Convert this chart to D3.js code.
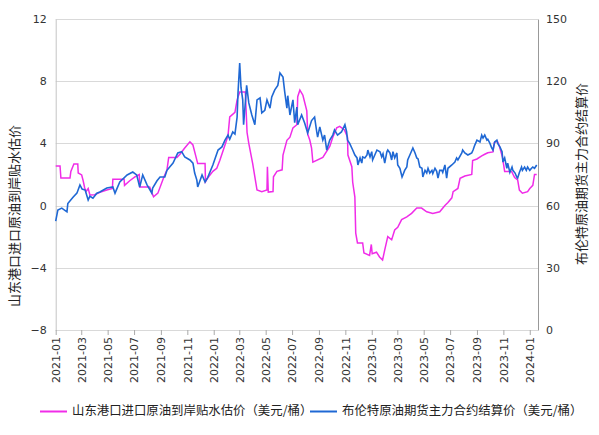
<!DOCTYPE html>
<html>
<head>
<meta charset="utf-8">
<script src="https://cdn.jsdelivr.net/npm/d3@7/dist/d3.min.js"></script>
<style>
  body { margin: 0; background: #fff; }
  text { font-family: "Noto Sans CJK SC", "DejaVu Sans", sans-serif; fill: #222; }
  .tick-num { font-family: "DejaVu Sans", sans-serif; font-size: 11px; fill: #333; }
  .grid { stroke: #d9d9d9; stroke-width: 1; }
</style>
</head>
<body>
<svg id="chart" width="599" height="435"></svg>
<script>
// pink series: 山东港口进口原油到岸贴水估价 (left axis)
var spreadDates = ['2021-01-01','2021-01-11','2021-01-13','2021-02-03','2021-02-05','2021-02-12','2021-02-21','2021-02-22','2021-03-02','2021-03-05','2021-03-09','2021-03-12','2021-03-17','2021-03-21','2021-04-01','2021-04-13','2021-04-29','2021-05-12','2021-05-13','2021-06-08','2021-06-09','2021-06-21','2021-07-03','2021-07-13','2021-07-14','2021-08-06','2021-08-15','2021-08-25','2021-09-07','2021-09-15','2021-09-19','2021-10-08','2021-10-15','2021-10-26','2021-11-07','2021-11-14','2021-11-20','2021-11-25','2021-12-12','2021-12-13','2021-12-18','2021-12-30','2022-01-08','2022-01-15','2022-01-27','2022-02-03','2022-02-07','2022-02-19','2022-02-24','2022-03-02','2022-03-15','2022-03-19','2022-03-23','2022-04-01','2022-04-11','2022-04-22','2022-05-04','2022-05-05','2022-05-07','2022-05-18','2022-05-19','2022-05-27','2022-06-08','2022-06-10','2022-06-19','2022-06-26','2022-07-03','2022-07-12','2022-07-14','2022-07-19','2022-07-26','2022-08-04','2022-08-06','2022-08-11','2022-08-15','2022-08-18','2022-09-10','2022-09-26','2022-10-03','2022-10-12','2022-10-19','2022-10-30','2022-11-06','2022-11-07','2022-11-16','2022-11-18','2022-11-23','2022-11-25','2022-11-29','2022-12-11','2022-12-14','2022-12-27','2022-12-31','2023-01-02','2023-01-12','2023-01-19','2023-01-26','2023-01-31','2023-02-07','2023-02-16','2023-02-23','2023-03-02','2023-03-11','2023-03-23','2023-04-03','2023-04-15','2023-04-26','2023-05-08','2023-05-22','2023-06-07','2023-06-19','2023-06-26','2023-07-05','2023-07-08','2023-07-19','2023-07-24','2023-08-04','2023-08-20','2023-08-22','2023-09-01','2023-09-12','2023-09-19','2023-09-26','2023-10-08','2023-10-11','2023-10-18','2023-10-23','2023-10-30','2023-11-04','2023-11-20','2023-11-27','2023-12-04','2023-12-08','2023-12-15','2023-12-27','2024-01-01','2024-01-08','2024-01-12','2024-01-17'];
var spreadValues = [2.55,2.55,1.77,1.77,2.2,2.67,2.67,2.1,1.97,1.65,1.13,0.9,1.1,0.68,0.7,0.85,1.0,1.1,1.7,1.7,1.3,1.6,1.85,2.0,1.2,1.2,0.57,0.8,1.77,2.3,3.1,3.1,3.3,3.7,4.1,3.9,3.25,2.7,2.7,1.54,1.77,2.2,2.4,2.9,3.9,4.5,5.7,6.0,6.8,7.3,7.3,4.7,4.0,2.7,1.0,0.9,1.0,2.5,0.87,0.9,1.85,2.2,2.3,3.25,4.2,4.4,5.0,5.2,7.0,7.43,7.1,6.1,4.6,4.2,3.7,2.8,3.1,3.8,4.4,5.0,5.1,4.86,4.4,3.25,2.5,1.5,0.55,-1.77,-2.4,-2.4,-3.05,-3.2,-2.5,-3.1,-3.0,-3.3,-3.5,-2.85,-2.0,-2.2,-1.57,-1.4,-0.9,-0.73,-0.5,-0.15,-0.16,-0.4,-0.5,-0.4,0.0,0.2,0.5,0.9,1.1,1.75,1.9,2.0,2.9,3.0,3.2,3.3,3.4,3.45,4.05,4.15,3.8,3.1,2.2,2.2,1.8,1.65,1.0,0.8,0.9,1.1,1.3,2.0,2.0];

// blue series: 布伦特原油期货主力合约结算价 (right axis)
var brentDates = ['2021-01-01','2021-01-06','2021-01-15','2021-01-27','2021-01-29','2021-02-10','2021-02-19','2021-02-26','2021-03-03','2021-03-10','2021-03-17','2021-03-21','2021-03-28','2021-04-06','2021-04-13','2021-04-29','2021-05-13','2021-05-18','2021-05-29','2021-06-15','2021-06-28','2021-07-07','2021-07-14','2021-07-21','2021-07-31','2021-08-11','2021-08-13','2021-08-23','2021-08-30','2021-09-10','2021-09-15','2021-09-29','2021-10-10','2021-10-19','2021-10-26','2021-11-07','2021-11-14','2021-11-18','2021-11-23','2021-11-25','2021-12-05','2021-12-12','2021-12-18','2021-12-30','2022-01-11','2022-01-20','2022-01-27','2022-02-03','2022-02-07','2022-02-14','2022-02-19','2022-02-24','2022-02-26','2022-03-02','2022-03-05','2022-03-09','2022-03-11','2022-03-16','2022-03-18','2022-03-23','2022-03-30','2022-04-06','2022-04-11','2022-04-18','2022-04-22','2022-04-29','2022-05-04','2022-05-11','2022-05-15','2022-05-22','2022-05-29','2022-06-03','2022-06-10','2022-06-14','2022-06-19','2022-06-21','2022-06-26','2022-07-03','2022-07-07','2022-07-12','2022-07-14','2022-07-23','2022-07-30','2022-08-06','2022-08-15','2022-08-22','2022-08-27','2022-08-29','2022-09-03','2022-09-10','2022-09-14','2022-09-19','2022-09-26','2022-10-03','2022-10-07','2022-10-14','2022-10-23','2022-10-31','2022-11-04','2022-11-06',
  '2022-11-11','2022-11-18','2022-11-23','2022-11-28','2022-11-30','2022-12-05','2022-12-09','2022-12-11','2022-12-16','2022-12-21','2022-12-23','2022-12-28','2023-01-01','2023-01-03','2023-01-08','2023-01-13','2023-01-20','2023-01-24','2023-01-27','2023-01-31','2023-02-05','2023-02-07','2023-02-12','2023-02-16','2023-02-19','2023-02-23','2023-02-28','2023-03-02','2023-03-07','2023-03-12','2023-03-14','2023-03-18','2023-03-23','2023-03-25','2023-03-30','2023-04-04','2023-04-06','2023-04-11','2023-04-15','2023-04-18','2023-04-22','2023-04-27','2023-04-29','2023-05-04','2023-05-08','2023-05-11','2023-05-15','2023-05-20','2023-05-22','2023-05-27','2023-05-31','2023-06-03','2023-06-07','2023-06-12','2023-06-14','2023-06-19','2023-06-23','2023-06-26','2023-07-05','2023-07-12','2023-07-16','2023-07-19','2023-07-28','2023-07-30','2023-08-04','2023-08-11','2023-08-20','2023-08-23','2023-08-27','2023-09-01','2023-09-08','2023-09-12','2023-09-15','2023-09-19','2023-09-24','2023-09-26','2023-10-01','2023-10-05','2023-10-08','2023-10-12','2023-10-17','2023-10-19','2023-10-24','2023-10-29','2023-10-31','2023-11-04','2023-11-09','2023-11-11','2023-11-16','2023-11-21','2023-11-23','2023-11-28','2023-12-02','2023-12-04','2023-12-08','2023-12-13','2023-12-15','2023-12-20','2023-12-24','2023-12-27','2024-01-01','2024-01-05','2024-01-08','2024-01-12','2024-01-17'];
var brentValues = [52.5,57.9,58.8,57,61,64,66,70,68,67.5,62.7,64.5,63.6,66,66.6,68.5,69,66,71.4,74.8,76.2,74.8,69,74.8,70,66,68.5,72,73.8,73.8,77,80.5,85.4,86,83.5,82,80.5,75.7,72.3,69,74.8,71.4,73.5,79.6,86.8,88.3,91.6,94,92,95.5,94.5,102.7,114,128.8,117,111,99,112.4,118,109.5,103.7,99,111,112,104.7,106,111,107,112.4,115.8,118,124,122,114.8,107,113,103.7,111,100,107.5,99,103.7,99.8,95,101,102.7,95.5,93,98,91.6,94,86.8,91.6,94,96.5,94,95.5,99,95.5,91.6,
  90,86.8,84.4,83,79.6,83,80.5,83.5,83,84.4,86.8,83.5,86,82,84.4,86.8,86,83.5,85,80.5,86,86.8,85.4,82,86,83,85.4,79.6,78,73.8,74.8,77,78.6,82,84.4,86.8,87.8,85.4,83,82.5,78.6,78,73.8,77,75.7,78,75.7,77,75.5,78,76.5,73.3,77,77,76,79.6,73.3,78,79.6,81,83,82,85.4,86.8,85.4,84.4,85.4,86.8,89.2,91.6,90.7,94,92.6,94,91.6,92,90,87.8,86.8,90.7,91.6,90,88.3,86,81,83,78,80.5,76,78.6,77,75.7,73.8,73.3,76,78.6,77,78.6,77,78.6,77,78,78.6,78,79.6];

var leftTicks = [-8, -4, 0, 4, 8, 12];
var rightTicks = [0, 30, 60, 90, 120, 150];

var parse = d3.timeParse('%Y-%m-%d');
var svg = d3.select('#chart');
var plotLeft = 55.7, plotRight = 538, plotTop = 19, plotBottom = 330;

var x = d3.scaleTime()
  .domain([parse('2021-01-01'), parse('2024-01-20')])
  .range([plotLeft, plotRight]);
var yL = d3.scaleLinear().domain([-8, 12]).range([plotBottom, plotTop]);
var yR = d3.scaleLinear().domain([0, 150]).range([plotBottom, plotTop]);

// grid lines
svg.append('g').selectAll('line')
  .data(leftTicks)
  .enter().append('line')
  .attr('class', 'grid')
  .attr('x1', plotLeft).attr('x2', plotRight)
  .attr('y1', d => Math.round(yL(d)) + 0.5).attr('y2', d => Math.round(yL(d)) + 0.5);

// left axis
var gL = svg.append('g').attr('transform', 'translate(' + plotLeft + ',0)')
  .call(d3.axisLeft(yL).tickValues(leftTicks).tickSize(0).tickPadding(9));
gL.select('.domain').attr('stroke', '#c4c4c4');
gL.selectAll('text').attr('class', 'tick-num');

// right axis
var gR = svg.append('g').attr('transform', 'translate(' + plotRight + ',0)')
  .call(d3.axisRight(yR).tickValues(rightTicks).tickSize(0).tickPadding(8));
gR.select('.domain').attr('stroke', '#999');
gR.selectAll('text').attr('class', 'tick-num');

// bottom axis
var gX = svg.append('g').attr('transform', 'translate(0,' + plotBottom + ')')
  .call(d3.axisBottom(x).ticks(d3.timeMonth.every(2)).tickFormat(d3.timeFormat('%Y-%m')).tickSize(5));
gX.select('.domain').remove();
gX.selectAll('line').attr('stroke', '#aaa');
gX.selectAll('text')
  .attr('class', 'tick-num')
  .attr('transform', 'rotate(-90)')
  .attr('text-anchor', 'end')
  .attr('x', -7).attr('y', 0).attr('dy', '0.35em');

// lines
var spreadLine = d3.line()
  .x((d, i) => x(parse(spreadDates[i])))
  .y(d => yL(d));
var brentLine = d3.line()
  .x((d, i) => x(parse(brentDates[i])))
  .y(d => yR(d));

svg.append('path')
  .datum(spreadValues)
  .attr('fill', 'none')
  .attr('stroke', '#f02ce8')
  .attr('stroke-width', 1.5)
  .attr('d', spreadLine);

svg.append('path')
  .datum(brentValues)
  .attr('fill', 'none')
  .attr('stroke', '#1f68d4')
  .attr('stroke-width', 1.6)
  .attr('d', brentLine);

// axis titles
svg.append('text')
  .attr('transform', 'translate(19,216) rotate(-90)')
  .attr('text-anchor', 'middle')
  .style('font-size', '13px')
  .text('山东港口进口原油到岸贴水估价');

svg.append('text')
  .attr('transform', 'translate(586,174) rotate(-90)')
  .attr('text-anchor', 'middle')
  .style('font-size', '13px')
  .text('布伦特原油期货主力合约结算价');

// legend
var legend = [
  { name: '山东港口进口原油到岸贴水估价（美元/桶）', color: '#f02ce8', x: 40 },
  { name: '布伦特原油期货主力合约结算价（美元/桶）', color: '#1f68d4', x: 310 }
];
var lg = svg.append('g').selectAll('g').data(legend).enter().append('g');
lg.append('line')
  .attr('x1', d => d.x).attr('x2', d => d.x + 27)
  .attr('y1', 411.5).attr('y2', 411.5)
  .attr('stroke', d => d.color).attr('stroke-width', 2);
lg.append('text')
  .attr('x', d => d.x + 32).attr('y', 411)
  .attr('dy', '0.35em')
  .style('font-size', '12.4px')
  .text(d => d.name);
</script>
</body>
</html>
